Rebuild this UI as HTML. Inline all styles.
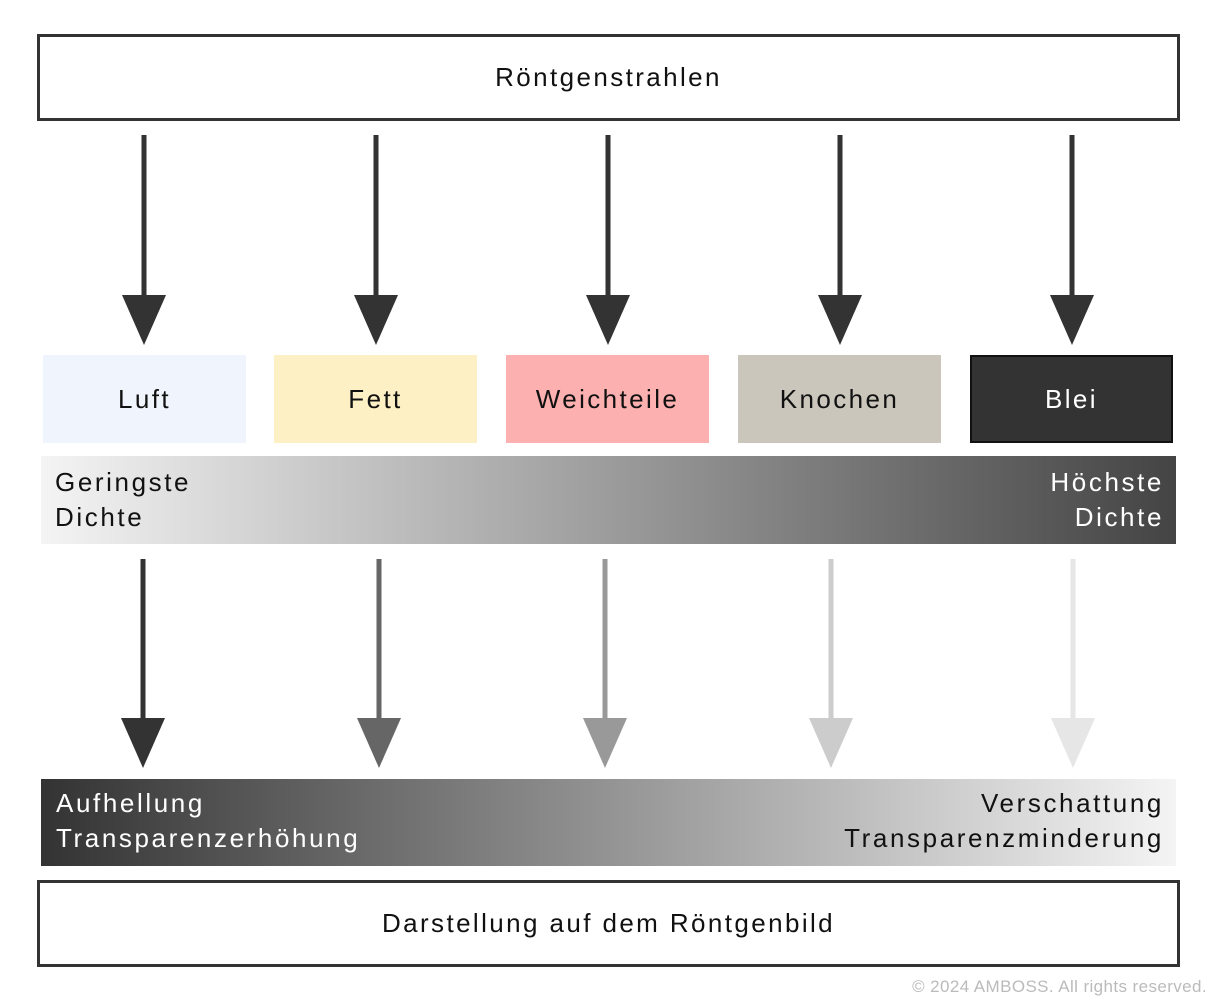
<!DOCTYPE html>
<html><head><meta charset="utf-8"><style>
body{margin:0;width:1214px;height:1000px;background:#fff;position:relative;font-family:"Liberation Sans",sans-serif;overflow:hidden}
.a{position:absolute}
.box{position:absolute;border:3px solid #333;box-sizing:border-box;display:flex;align-items:center;justify-content:center;font-size:26px;color:#111;letter-spacing:2.4px}
.m{position:absolute;top:355px;height:88px;width:203px;display:flex;align-items:center;justify-content:center;font-size:26px;color:#111;letter-spacing:2.4px;box-sizing:border-box}
.t{position:absolute;font-size:26px;line-height:35px;letter-spacing:2.6px}
</style></head><body>
<div class="box" style="left:37px;top:34px;width:1143px;height:87px">Röntgenstrahlen</div>
<svg class="a" style="left:0;top:0" width="1214" height="1000">
<g fill="#333" stroke="#333">
<line x1="144" y1="135" x2="144" y2="300" stroke-width="5"/><polygon points="122,295 166,295 144,345" stroke="none"/>
<line x1="376" y1="135" x2="376" y2="300" stroke-width="5"/><polygon points="354,295 398,295 376,345" stroke="none"/>
<line x1="608" y1="135" x2="608" y2="300" stroke-width="5"/><polygon points="586,295 630,295 608,345" stroke="none"/>
<line x1="840" y1="135" x2="840" y2="300" stroke-width="5"/><polygon points="818,295 862,295 840,345" stroke="none"/>
<line x1="1072" y1="135" x2="1072" y2="300" stroke-width="5"/><polygon points="1050,295 1094,295 1072,345" stroke="none"/>
</g>
<g><line x1="143" y1="559" x2="143" y2="722" stroke="#333" stroke-width="5"/><polygon points="121,718 165,718 143,768" fill="#333"/></g>
<g><line x1="379" y1="559" x2="379" y2="722" stroke="#666" stroke-width="5"/><polygon points="357,718 401,718 379,768" fill="#666"/></g>
<g><line x1="605" y1="559" x2="605" y2="722" stroke="#999" stroke-width="5"/><polygon points="583,718 627,718 605,768" fill="#999"/></g>
<g><line x1="831" y1="559" x2="831" y2="722" stroke="#ccc" stroke-width="5"/><polygon points="809,718 853,718 831,768" fill="#ccc"/></g>
<g><line x1="1073" y1="559" x2="1073" y2="722" stroke="#e6e6e6" stroke-width="5"/><polygon points="1051,718 1095,718 1073,768" fill="#e6e6e6"/></g>
</svg>
<div class="m" style="left:43px;background:#f0f5fd">Luft</div>
<div class="m" style="left:274px;background:#fdf0c4">Fett</div>
<div class="m" style="left:506px;background:#fdb0b0">Weichteile</div>
<div class="m" style="left:738px;background:#cac6bc">Knochen</div>
<div class="m" style="left:970px;background:#333;border:2px solid #111;color:#fff">Blei</div>
<div class="a" style="left:41px;top:456px;width:1135px;height:88px;background:linear-gradient(to right,#f4f4f4,#444)"></div>
<div class="t" style="left:55px;top:465px;color:#111">Geringste<br>Dichte</div>
<div class="t" style="right:50px;top:465px;color:#fff;text-align:right">Höchste<br>Dichte</div>
<div class="a" style="left:41px;top:779px;width:1135px;height:87px;background:linear-gradient(to right,#333,#f4f4f4)"></div>
<div class="t" style="left:56px;top:786px;color:#fff">Aufhellung<br>Transparenzerhöhung</div>
<div class="t" style="right:50px;top:786px;color:#111;text-align:right">Verschattung<br>Transparenzminderung</div>
<div class="box" style="left:37px;top:880px;width:1143px;height:87px">Darstellung auf dem Röntgenbild</div>
<div class="a" style="right:7px;top:977px;font-size:17px;color:#bbb;letter-spacing:0.4px">© 2024 AMBOSS. All rights reserved.</div>
</body></html>
